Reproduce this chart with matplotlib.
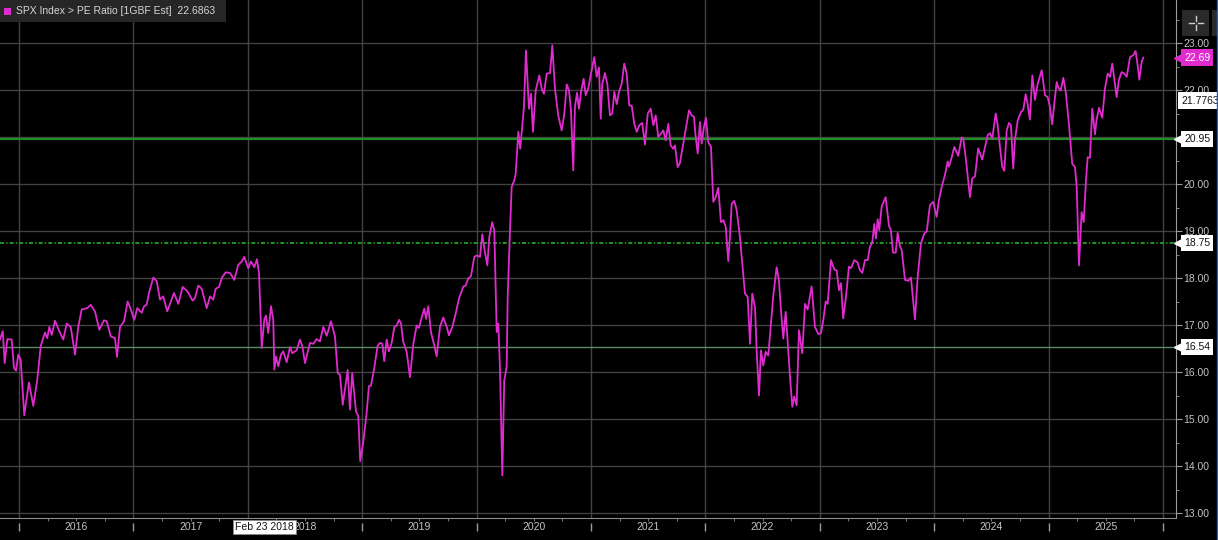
import matplotlib.pyplot as plt
from matplotlib.lines import Line2D
from matplotlib.patches import Rectangle
from matplotlib.transforms import blended_transform_factory
from matplotlib.ticker import FixedLocator, MultipleLocator, FormatStrFormatter

plt.rcParams['font.family'] = ['Liberation Sans', 'DejaVu Sans']

# SPX forward P/E (1GBF est): decimal year -> ratio
dates = [
    2015.834, 2015.858, 2015.875, 2015.898, 2015.936, 2015.956, 2015.974, 2015.994,
    2016.015, 2016.046, 2016.087, 2016.125, 2016.160, 2016.190, 2016.227, 2016.247,
    2016.265, 2016.286, 2016.315, 2016.352, 2016.387, 2016.417, 2016.452, 2016.490,
    2016.518, 2016.548, 2016.597, 2016.627, 2016.664, 2016.702, 2016.743, 2016.767,
    2016.802, 2016.839, 2016.857, 2016.883, 2016.918, 2016.950, 2016.976,
    2017.008, 2017.034, 2017.073, 2017.093, 2017.116, 2017.136, 2017.174, 2017.204,
    2017.233, 2017.261, 2017.296, 2017.355, 2017.393, 2017.431, 2017.471, 2017.518,
    2017.538, 2017.567, 2017.597, 2017.641, 2017.670, 2017.698, 2017.719, 2017.748,
    2017.777, 2017.807, 2017.844, 2017.882, 2017.917, 2017.947, 2017.969,
    2018.004, 2018.028, 2018.057, 2018.080, 2018.098, 2018.122, 2018.144, 2018.159,
    2018.179, 2018.203, 2018.223, 2018.232, 2018.247, 2018.267, 2018.290, 2018.310,
    2018.340, 2018.369, 2018.389, 2018.427, 2018.456, 2018.476, 2018.500, 2018.544,
    2018.573, 2018.602, 2018.631, 2018.660, 2018.690, 2018.727, 2018.762, 2018.786,
    2018.806, 2018.830, 2018.873, 2018.893, 2018.913, 2018.946, 2018.966, 2018.983,
    2019.010, 2019.039, 2019.059, 2019.077, 2019.103, 2019.135, 2019.156, 2019.176,
    2019.193, 2019.214, 2019.234, 2019.258, 2019.281, 2019.302, 2019.322,
    2019.339, 2019.359, 2019.389, 2019.418, 2019.447, 2019.476, 2019.497, 2019.520,
    2019.543, 2019.558, 2019.578, 2019.601, 2019.630, 2019.651, 2019.680, 2019.709,
    2019.739, 2019.759, 2019.788, 2019.817, 2019.846, 2019.884, 2019.905, 2019.927,
    2019.951, 2019.980,
    2020.001, 2020.030, 2020.050, 2020.073, 2020.094, 2020.111, 2020.137, 2020.155,
    2020.176, 2020.190, 2020.205, 2020.225, 2020.242, 2020.263, 2020.272, 2020.292,
    2020.307, 2020.330, 2020.342, 2020.365, 2020.382, 2020.400, 2020.414, 2020.432,
    2020.458, 2020.476, 2020.493, 2020.517, 2020.548, 2020.569, 2020.589, 2020.613,
    2020.642, 2020.662, 2020.685, 2020.714, 2020.744, 2020.767, 2020.788, 2020.808,
    2020.825, 2020.845, 2020.860, 2020.878, 2020.895, 2020.913, 2020.936, 2020.954,
    2020.976,
    2021.000, 2021.029, 2021.050, 2021.070, 2021.085, 2021.099, 2021.122, 2021.143,
    2021.166, 2021.186, 2021.204, 2021.225, 2021.245, 2021.268, 2021.291, 2021.312,
    2021.335, 2021.356, 2021.379, 2021.400, 2021.422, 2021.448, 2021.472, 2021.496,
    2021.522, 2021.545, 2021.566, 2021.588, 2021.612, 2021.632, 2021.653, 2021.676,
    2021.697, 2021.719, 2021.734, 2021.758, 2021.778, 2021.807, 2021.837, 2021.857,
    2021.880, 2021.900, 2021.915, 2021.933, 2021.953, 2021.968, 2021.985,
    2022.005, 2022.025, 2022.049, 2022.069, 2022.090, 2022.113, 2022.136, 2022.157,
    2022.178, 2022.200, 2022.215, 2022.230, 2022.253, 2022.274, 2022.302, 2022.323,
    2022.346, 2022.370, 2022.390, 2022.410, 2022.434, 2022.448, 2022.469, 2022.486,
    2022.506, 2022.527, 2022.550, 2022.571, 2022.594, 2022.623, 2022.643, 2022.661,
    2022.681, 2022.702, 2022.719, 2022.740, 2022.760, 2022.777, 2022.798, 2022.818,
    2022.847, 2022.871, 2022.894, 2022.929, 2022.958, 2022.987,
    2023.010, 2023.031, 2023.052, 2023.069, 2023.098, 2023.127, 2023.148, 2023.168,
    2023.185, 2023.205, 2023.229, 2023.255, 2023.273, 2023.302, 2023.331, 2023.351,
    2023.372, 2023.395, 2023.419, 2023.439, 2023.459, 2023.476, 2023.491, 2023.506,
    2023.520, 2023.541, 2023.576, 2023.605, 2023.622, 2023.640, 2023.664, 2023.681,
    2023.701, 2023.716, 2023.745, 2023.774, 2023.797, 2023.832, 2023.856, 2023.885,
    2023.914, 2023.935, 2023.963, 2023.992,
    2024.022, 2024.042, 2024.066, 2024.094, 2024.118, 2024.129, 2024.147, 2024.176,
    2024.211, 2024.240, 2024.254, 2024.275, 2024.313, 2024.333, 2024.357, 2024.385,
    2024.420, 2024.468, 2024.488, 2024.508, 2024.538, 2024.555, 2024.575, 2024.595,
    2024.613, 2024.634, 2024.654, 2024.671, 2024.691, 2024.706, 2024.730, 2024.759,
    2024.779, 2024.800, 2024.817, 2024.837, 2024.858, 2024.881, 2024.905, 2024.940,
    2024.969, 2024.992,
    2025.012, 2025.032, 2025.050, 2025.071, 2025.085, 2025.106, 2025.129, 2025.150,
    2025.178, 2025.207, 2025.231, 2025.246, 2025.266, 2025.289, 2025.307, 2025.327,
    2025.342, 2025.362, 2025.382, 2025.406, 2025.420, 2025.441, 2025.469, 2025.493,
    2025.517, 2025.537, 2025.557, 2025.574, 2025.595, 2025.615, 2025.639, 2025.662,
    2025.683, 2025.712, 2025.740, 2025.761, 2025.779, 2025.793, 2025.814, 2025.828,
]
pe = [
    16.69, 16.87, 16.19, 16.70, 16.69, 16.09, 16.03, 16.37,
    16.26, 15.08, 15.78, 15.28, 15.84, 16.55, 16.84, 16.72,
    16.96, 16.79, 17.09, 16.87, 16.69, 17.03, 16.96, 16.37,
    16.96, 17.33, 17.36, 17.43, 17.29, 16.90, 17.10, 17.08,
    16.76, 16.72, 16.32, 16.96, 17.08, 17.50, 17.34,
    17.11, 17.36, 17.26, 17.40, 17.43, 17.68, 18.01, 17.93,
    17.54, 17.61, 17.29, 17.68, 17.45, 17.81, 17.72, 17.52,
    17.57, 17.84, 17.77, 17.36, 17.61, 17.54, 17.77, 17.81,
    18.02, 18.12, 18.11, 17.96, 18.28, 18.35, 18.45,
    18.21, 18.35, 18.23, 18.40, 18.11, 16.51, 17.11, 17.20,
    16.83, 17.40, 17.11, 16.05, 16.33, 16.12, 16.37, 16.44,
    16.21, 16.53, 16.40, 16.46, 16.69, 16.56, 16.19, 16.62,
    16.60, 16.70, 16.65, 16.96, 16.77, 17.08, 16.76, 15.98,
    15.94, 15.30, 16.04, 15.20, 15.98, 15.16, 15.06, 14.10,
    14.52, 15.13, 15.70, 15.71, 16.05, 16.56, 16.62, 16.60,
    16.23, 16.69, 16.44, 16.62, 16.96, 16.99, 17.11,
    17.04, 16.64, 16.43, 15.89, 16.60, 16.99, 16.94, 17.16,
    17.35, 17.13, 17.40, 16.85, 16.57, 16.33, 16.96, 17.16,
    16.96, 16.78, 16.96, 17.24, 17.56, 17.82, 17.84, 17.99,
    18.04, 18.45,
    18.48, 18.45, 18.93, 18.55, 18.27, 18.87, 19.19, 19.01,
    16.85, 17.03, 16.04, 13.80, 15.82, 16.11, 17.60, 19.01,
    19.94, 20.08, 20.22, 21.11, 20.75, 21.25, 21.64, 22.84,
    21.60, 21.92, 21.11, 21.99, 22.31, 22.03, 21.92, 22.35,
    22.36, 22.95, 22.03, 21.46, 21.14, 21.50, 22.12, 21.99,
    21.57, 20.29, 21.64, 21.94, 21.60, 21.96, 22.24, 21.89,
    22.03,
    22.35, 22.70, 22.28, 22.48, 21.39, 22.13, 22.36, 22.13,
    21.46, 21.50, 21.96, 21.70, 21.96, 22.13, 22.56, 22.35,
    21.67, 21.67, 21.28, 21.11, 21.25, 21.30, 20.84, 21.50,
    21.60, 21.25, 21.46, 21.00, 21.07, 21.14, 20.93, 21.28,
    20.82, 20.75, 20.82, 20.36, 20.45, 20.86, 21.28, 21.57,
    21.46, 21.43, 21.01, 20.65, 21.32, 20.86, 21.18,
    21.41, 20.89, 20.79, 19.62, 19.72, 19.92, 19.19, 19.23,
    19.09, 18.36, 18.87, 19.58, 19.64, 19.44, 18.87, 18.30,
    17.67, 17.60, 16.60, 17.67, 17.38, 16.46, 15.50, 16.46,
    16.14, 16.43, 16.35, 16.96, 17.63, 18.23, 17.95, 17.31,
    16.71, 17.28, 16.67, 15.89, 15.26, 15.48, 15.29, 16.89,
    16.40, 17.45, 17.33, 17.82, 16.96, 16.81,
    16.82, 17.11, 17.50, 17.45, 18.38, 18.18, 18.16, 17.74,
    17.89, 17.14, 17.60, 18.24, 18.21, 18.38, 18.33, 18.17,
    18.11, 18.38, 18.38, 18.67, 18.75, 19.15, 18.84, 19.25,
    19.02, 19.52, 19.72, 19.11, 19.02, 18.54, 18.54, 18.96,
    18.67, 18.60, 17.96, 17.94, 18.01, 17.12, 18.03, 18.74,
    18.95, 18.99, 19.55, 19.62,
    19.30, 19.66, 19.94, 20.19, 20.48, 20.37, 20.51, 20.79,
    20.60, 20.99, 20.97, 20.58, 19.72, 20.12, 20.16, 20.76,
    20.52, 21.04, 21.08, 20.97, 21.50, 21.25, 20.79, 20.37,
    20.28, 21.14, 21.30, 21.25, 20.33, 20.93, 21.35, 21.53,
    21.58, 21.91, 21.70, 21.37, 22.31, 21.79, 22.13, 22.42,
    21.89, 21.85,
    21.64, 21.27, 21.71, 22.17, 22.05, 21.99, 22.26, 21.96,
    21.28, 20.43, 20.36, 19.94, 18.27, 19.40, 19.19, 20.08,
    20.57, 20.56, 21.60, 21.06, 21.37, 21.62, 21.41, 22.03,
    22.35, 22.28, 22.56, 22.24, 21.85, 22.22, 22.38, 22.35,
    22.28, 22.70, 22.74, 22.83, 22.52, 22.22, 22.60, 22.69,
]
assert len(dates) == len(pe)

years = list(range(2016, 2026))
last_value = 22.6863
avg_value = 21.7763
upper_band = 20.95
mean_level = 18.75
lower_band = 16.54
cursor_date = 2018.148
cursor_label = 'Feb 23 2018'
legend_text = 'SPX Index > PE Ratio [1GBF Est]'

BG = '#000000'
GRID = '#424242'
TXT = '#c4c4c4'
MAGENTA = '#e02ccf'

W, H = 1218, 540
fig = plt.figure(figsize=(W / 100, H / 100), dpi=100, facecolor=BG)
ax = fig.add_axes([0, 22 / H, 1176 / W, 518 / H], facecolor=BG)

ax.set_xlim(2015.834, 2026.114)
ax.set_ylim(12.894, 23.915)

# year separators and horizontal grid
for e in years + [2026]:
    ax.axvline(e, color=GRID, lw=1, zorder=0)
for v in range(13, 24):
    ax.axhline(v, color=GRID, lw=1, zorder=0)

# reference levels
ax.axhline(upper_band, color='#1f8f25', lw=1.6, zorder=1)
ax.axhline(lower_band, color='#5b8a63', lw=1.0, zorder=1)
ax.axhline(mean_level, color='#22b422', lw=1.2, zorder=1,
           linestyle=(0, (2.4, 1.3, 0.8, 1.3)))

ax.plot(dates, pe, color=MAGENTA, lw=1.3, zorder=3)

# spines / axes
for s in ['left', 'top']:
    ax.spines[s].set_visible(False)
ax.spines['bottom'].set_color('#8c8c8c')
ax.spines['right'].set_color('#9c9c9c')

ax.yaxis.tick_right()
ax.yaxis.set_major_locator(FixedLocator(range(13, 24)))
ax.yaxis.set_major_formatter(FormatStrFormatter('%.2f'))
ax.yaxis.set_minor_locator(MultipleLocator(0.5))
ax.tick_params(axis='y', which='major', length=4, color='#9c9c9c',
               labelcolor=TXT, labelsize=7.5, pad=1)
ax.tick_params(axis='y', which='minor', length=2, color='#9c9c9c')

ax.xaxis.set_major_locator(FixedLocator([]))
ax.xaxis.set_minor_locator(FixedLocator(
    [y + q for y in years for q in (0.25, 0.5, 0.75)]))
ax.tick_params(axis='x', which='minor', length=2, color='#8c8c8c')

bt = blended_transform_factory(ax.transData, ax.transAxes)
ax.vlines(years + [2026], -0.025, -0.01, transform=bt, clip_on=False,
          color='#9c9c9c', lw=1)
for y in years:
    ax.text(y + 0.5, -0.0175, str(y), transform=bt, ha='center', va='center',
            fontsize=7.5, color=TXT)
ax.text(cursor_date, -0.0175, cursor_label, transform=bt, ha='center',
        va='center', fontsize=7.5, color='#111111', zorder=5,
        bbox=dict(boxstyle='square,pad=0.2', fc='white', ec='#888888', lw=0.6))

# value tags on the right axis
rt = blended_transform_factory(ax.transAxes, ax.transData)


def tag(val, text, fc, tc, arrow=True):
    x0 = 1181 / 1176
    if arrow:
        ax.plot([1179 / 1176], [val], marker='<', ms=7, color=fc, mec=fc,
                transform=rt, clip_on=False, zorder=6)
        x0 = 1184 / 1176
    ax.text(x0, val, text, transform=rt, ha='left', va='center', fontsize=7.5,
            color=tc, zorder=7, clip_on=False,
            bbox=dict(boxstyle='square,pad=0.3', fc=fc, ec='none'))


tag(round(last_value, 2), f'{last_value:.2f}', MAGENTA, 'white')
tag(avg_value, f'{avg_value:.4f}', 'white', '#111111', arrow=False)
tag(upper_band, f'{upper_band:.2f}', 'white', '#111111')
tag(mean_level, f'{mean_level:.2f}', 'white', '#111111')
tag(lower_band, f'{lower_band:.2f}', 'white', '#111111')

# legend header, top-left
fig.add_artist(Rectangle((0, 1 - 22 / H), 226 / W, 22 / H,
                         transform=fig.transFigure, fc='#262626', ec='none'))
fig.add_artist(Rectangle((4 / W, 1 - 15 / H), 7 / W, 7 / H,
                         transform=fig.transFigure, fc=MAGENTA, ec='none'))
fig.text(16 / W, 1 - 11.5 / H, f'{legend_text}  {last_value}', fontsize=7.5,
         color='#d6d6d6', ha='left', va='center')

# chart toolbar icon, top-right
fig.add_artist(Rectangle((1182 / W, 1 - 36 / H), 27 / W, 26 / H,
                         transform=fig.transFigure, fc='#2a2a2a', ec='none'))
fig.add_artist(Rectangle((1212 / W, 1 - 36 / H), 6 / W, 26 / H,
                         transform=fig.transFigure, fc='#2a2a2a', ec='none'))
cx, cy = 1195.5, 23
for dx0, dx1, dy0, dy1 in [(-7, -2, 0, 0), (2, 7, 0, 0), (0, 0, -7, -2), (0, 0, 2, 7)]:
    fig.add_artist(Line2D([(cx + dx0) / W, (cx + dx1) / W],
                          [1 - (cy + dy0) / H, 1 - (cy + dy1) / H],
                          transform=fig.transFigure, color='#cfcfcf', lw=1))
fig.add_artist(Line2D([1217 / W, 1217 / W], [0, 1], transform=fig.transFigure,
                      color='#2c5ea8', lw=1))

fig.savefig('out.png', dpi=100, facecolor=BG)
